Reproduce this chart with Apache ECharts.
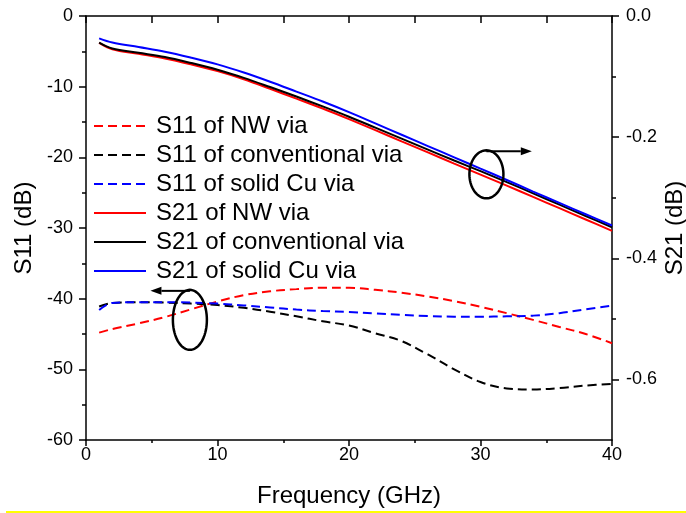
<!DOCTYPE html>
<html>
<head>
<meta charset="utf-8">
<script src="https://cdn.jsdelivr.net/npm/echarts@6/dist/echarts.min.js"></script>
<style>
  html, body { margin: 0; padding: 0; background: #fff; }
  #chart { width: 686px; height: 513px; }
</style>
</head>
<body>
<div id="chart"></div>
<script>
// Frequency points (GHz)
const freq = [1, 2, 4, 6, 8, 10, 12, 14, 16, 18, 20, 22, 24, 26, 28, 30, 32, 34, 36, 38, 40];

// S11 (dB), left axis
const s11NW   = [-44.8, -44.3, -43.5, -42.6, -41.5, -40.4, -39.5, -38.95, -38.65, -38.45, -38.45, -38.75, -39.15, -39.7, -40.35, -41.15, -42.05, -43.0, -44.0, -45.0, -46.3];
const s11Conv = [-41.1, -40.6, -40.5, -40.55, -40.7, -40.9, -41.3, -41.85, -42.5, -43.2, -43.8, -44.9, -46.0, -47.9, -50.0, -51.8, -52.7, -52.85, -52.65, -52.3, -52.05];
const s11Cu   = [-41.6, -40.6, -40.5, -40.5, -40.55, -40.7, -40.95, -41.25, -41.55, -41.75, -41.9, -42.1, -42.3, -42.45, -42.55, -42.55, -42.5, -42.4, -42.05, -41.5, -41.0];

// S21 (dB), right axis
const s21NW   = [-0.0443, -0.0548, -0.0624, -0.0700, -0.0799, -0.0910, -0.1044, -0.1202, -0.1365, -0.1528, -0.1703, -0.1884, -0.2071, -0.2252, -0.2438, -0.2619, -0.2800, -0.2987, -0.3173, -0.3360, -0.3547];
const s21Conv = [-0.0440, -0.0537, -0.0607, -0.0677, -0.0776, -0.0887, -0.1021, -0.1173, -0.1330, -0.1493, -0.1663, -0.1843, -0.2024, -0.2205, -0.2386, -0.2561, -0.2742, -0.2928, -0.3115, -0.3302, -0.3488];
const s21Cu   = [-0.0369, -0.0438, -0.0513, -0.0589, -0.0688, -0.0799, -0.0933, -0.1085, -0.1248, -0.1412, -0.1587, -0.1773, -0.1960, -0.2147, -0.2333, -0.2520, -0.2707, -0.2899, -0.3086, -0.3273, -0.3459];

// Axis tick labels
const s21MajorTicks = [0, -0.2, -0.4, -0.6];
const s21MinorTicks = [-0.1, -0.3, -0.5];

const names = [
  'S11 of NW via', 'S11 of conventional via', 'S11 of solid Cu via',
  'S21 of NW via', 'S21 of conventional via', 'S21 of solid Cu via'
];

const RED = '#ff0000', BLACK = '#000000', BLUE = '#0000ff';
const FONT = '"Liberation Sans", Arial, sans-serif';

function pairs(ys) { return freq.map((f, i) => [f, ys[i]]); }

function lineSeries(name, ys, color, dashed, yIdx) {
  return {
    name: name,
    type: 'line',
    yAxisIndex: yIdx,
    data: pairs(ys),
    smooth: 0.35,
    symbol: 'none',
    showSymbol: false,
    lineStyle: { color: color, width: 2, type: dashed ? [9, 5] : 'solid' },
    itemStyle: { color: color },
    emphasis: { disabled: true },
    animation: false
  };
}

const axisLineStyle = { color: '#000', width: 1.5 };

const chart = echarts.init(document.getElementById('chart'), null, { renderer: 'canvas' });

chart.setOption({
  backgroundColor: '#fff',
  animation: false,
  textStyle: { fontFamily: FONT, color: '#000' },
  grid: { left: 86, right: 74, top: 16, bottom: 73, containLabel: false, outerBoundsMode: 'none' },
  legend: {
    orient: 'vertical',
    left: 93,
    top: 114,
    padding: 0,
    itemWidth: 52,
    itemHeight: 14,
    itemGap: 5,
    data: names,
    itemStyle: { color: 'rgba(0,0,0,0)', borderWidth: 0, opacity: 0 },
    textStyle: { fontSize: 24, lineHeight: 24, color: '#000', fontFamily: FONT, padding: [0, 0, 0, 5] },
    selectedMode: false
  },
  xAxis: [
    {
      type: 'value', min: 0, max: 40, interval: 10, position: 'bottom',
      axisLine: { show: true, onZero: false, lineStyle: axisLineStyle },
      axisTick: { show: true, inside: false, length: 6, lineStyle: axisLineStyle },
      minorTick: { show: true, splitNumber: 2, length: 3, lineStyle: axisLineStyle },
      splitLine: { show: false },
      axisLabel: { fontSize: 18, color: '#000', margin: 6, fontFamily: FONT },
      name: 'Frequency (GHz)', nameLocation: 'middle', nameGap: 44, nameMoveOverlap: false,
      nameTextStyle: { fontSize: 24, color: '#000', fontFamily: FONT }
    },
    {
      type: 'value', min: 0, max: 40, interval: 5, position: 'top',
      axisLine: { show: true, onZero: false, lineStyle: axisLineStyle },
      axisTick: { show: true, inside: true, length: 7, lineStyle: axisLineStyle },
      splitLine: { show: false },
      axisLabel: { show: false }
    }
  ],
  yAxis: [
    {
      type: 'value', min: -60, max: 0, interval: 10, position: 'left',
      axisLine: { show: true, onZero: false, lineStyle: axisLineStyle },
      axisTick: { show: true, inside: false, length: 7, lineStyle: axisLineStyle },
      minorTick: { show: true, splitNumber: 2, length: 4, lineStyle: axisLineStyle },
      splitLine: { show: false },
      axisLabel: { fontSize: 18, color: '#000', margin: 13, fontFamily: FONT },
      name: 'S11 (dB)', nameLocation: 'middle', nameRotate: 90, nameGap: 50, nameMoveOverlap: false,
      nameTextStyle: { fontSize: 24, color: '#000', fontFamily: FONT }
    },
    {
      type: 'value', min: -0.7, max: 0, position: 'right',
      axisLine: { show: true, onZero: false, lineStyle: axisLineStyle },
      axisTick: { show: true, inside: false, length: 7, lineStyle: axisLineStyle, customValues: s21MajorTicks },
      splitLine: { show: false },
      axisLabel: {
        fontSize: 18, color: '#000', margin: 14, fontFamily: FONT,
        customValues: s21MajorTicks,
        formatter: v => (Math.abs(v) < 1e-9 ? 0 : v).toFixed(1)
      },
      name: 'S21 (dB)', nameLocation: 'middle', nameRotate: 90, nameGap: 51, nameMoveOverlap: false,
      nameTextStyle: { fontSize: 24, color: '#000', fontFamily: FONT }
    },
    {
      type: 'value', min: -0.7, max: 0, position: 'right',
      axisLine: { show: false, onZero: false },
      axisTick: { show: true, inside: false, length: 4, lineStyle: axisLineStyle, customValues: s21MinorTicks },
      splitLine: { show: false },
      axisLabel: { show: false }
    }
  ],
  series: [
    lineSeries(names[0], s11NW, RED, true, 0),
    lineSeries(names[1], s11Conv, BLACK, true, 0),
    lineSeries(names[2], s11Cu, BLUE, true, 0),
    lineSeries(names[3], s21NW, RED, false, 1),
    lineSeries(names[4], s21Conv, BLACK, false, 1),
    lineSeries(names[5], s21Cu, BLUE, false, 1)
  ]
});

// Annotation markers: ellipse around a group of curves with an arrow
// pointing toward the axis that group is read against.
function ellipsePoints(cx, cy, rx, ry) {
  const pts = [];
  for (let i = 0; i < 72; i++) {
    const a = i / 72 * Math.PI * 2;
    pts.push([cx + rx * Math.cos(a), cy + ry * Math.sin(a)]);
  }
  return pts;
}

function annotation(centerData, rx, ry, arrowToF) {
  const c = chart.convertToPixel({ xAxisIndex: 0, yAxisIndex: 0 }, centerData);
  const endX = chart.convertToPixel({ xAxisIndex: 0 }, arrowToF);
  const topY = c[1] - ry;
  const dir = endX > c[0] ? 1 : -1;
  const head = 11;
  return [
    { type: 'polygon', shape: { points: ellipsePoints(c[0], c[1], rx, ry) },
      style: { fill: 'none', stroke: '#000', lineWidth: 2.5 }, z: 100 },
    { type: 'line', shape: { x1: c[0], y1: topY + 1, x2: endX - dir * head, y2: topY + 1 },
      style: { stroke: '#000', lineWidth: 2 }, z: 100 },
    { type: 'polygon',
      shape: { points: [[endX, topY + 1], [endX - dir * head, topY - 3], [endX - dir * head, topY + 5]] },
      style: { fill: '#000' }, z: 100 }
  ];
}

const graphics = []
  .concat(annotation([30.45, -22.4], 17, 24, 33.9))
  .concat(annotation([7.9, -43.0], 17, 30, 4.9));

// thin yellow rule along the bottom edge
graphics.push({ type: 'rect', shape: { x: 6, y: 511, width: 680, height: 2 },
  style: { fill: '#ffff00' }, z: 100 });

chart.setOption({ graphic: graphics });
</script>
</body>
</html>
